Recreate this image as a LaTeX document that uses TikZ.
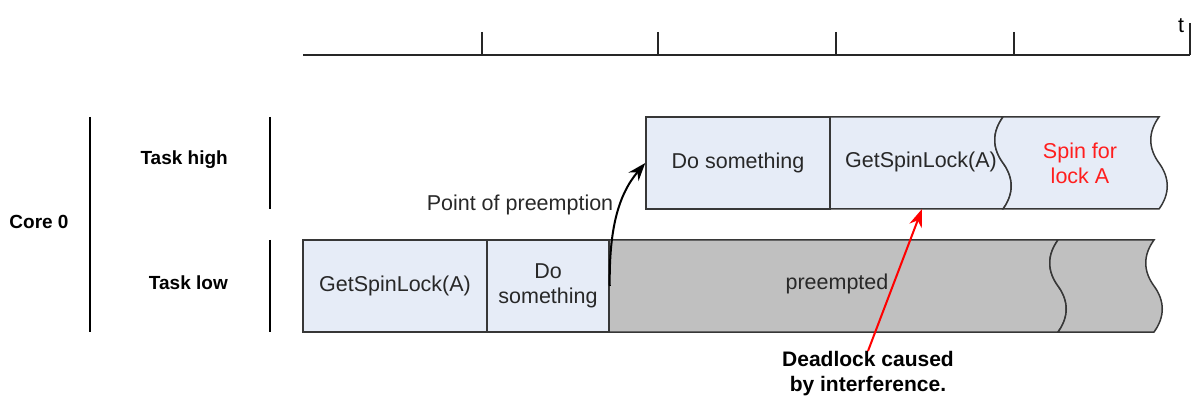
\documentclass[tikz,border=0pt]{standalone}
\usepackage{fontspec}
\setmainfont{Liberation Sans}
\usetikzlibrary{arrows.meta}
\definecolor{boxfill}{RGB}{230,236,247}
\definecolor{grayfill}{RGB}{192,192,192}
\definecolor{edge}{RGB}{55,55,55}
\definecolor{txt}{RGB}{40,40,40}
\definecolor{spinred}{RGB}{255,30,30}
\begin{document}
\begin{tikzpicture}[x=1pt,y=-1pt,
  boxe/.style={draw=edge, line width=1.5pt},
  taskbox/.style={boxe, fill=boxfill, rectangle, minimum height=92pt, inner sep=0pt,
    text=txt, font=\fontsize{21.5}{25}\selectfont, align=center},
  lbl/.style={font=\fontsize{21.5}{25}\selectfont, text=txt, align=center, inner sep=0pt},
  blbl/.style={font=\fontsize{19}{22}\selectfont\bfseries, text=black, inner sep=0pt},
  sepline/.style={line width=1.4pt, draw=black},
  axisline/.style={line width=1.8pt, draw=black!85},
  arr/.style={line width=2pt, -{Stealth[length=18pt,width=13pt]}},
]
\useasboundingbox (0,0) rectangle (1192,398);

% time axis
\draw[axisline] (303,55) -- (1190,55);
\foreach \tx in {482,658,836,1014}{\draw[axisline] (\tx,32) -- (\tx,55);}
\draw[axisline] (1190,23) -- (1190,55);
\node[lbl, text=black, anchor=south] (tlabel) at (1181,33) {t};

% row labels
\node[blbl] (core) at (39,222) {Core 0};
\node[blbl, anchor=east] (thigh) at (228,160) {Task high};
\node[blbl, anchor=east] (tlow) at (228,283) {Task low};
\draw[sepline] (90,117) -- (90,332);
\draw[sepline] (270,117) -- (270,209);
\draw[sepline] (270,240) -- (270,332);

% ---- Task high ----
\path[boxe, fill=boxfill] (830,117) -- (1003,117)
  .. controls (992,132) and (992,148) .. (1003,163)
  .. controls (1014,178) and (1014,194) .. (1003,209)
  -- (830,209) -- cycle;
\path[boxe, fill=boxfill] (1003,117) -- (1159,117)
  .. controls (1148,132) and (1148,148) .. (1159,163)
  .. controls (1170,178) and (1170,194) .. (1159,209)
  -- (1003,209)
  .. controls (1014,194) and (1014,178) .. (1003,163)
  .. controls (992,148) and (992,132) .. (1003,117);
\node[taskbox, minimum width=184pt] (highdo) at (738,163) {Do something};
\node[lbl] (hl) at (921,162) {GetSpinLock(A)};
\node[lbl, text=spinred] (spin) at (1080,163) {Spin for\\lock A};
\coordinate (hlb) at (922,209);

% ---- Task low ----
\path[boxe, fill=grayfill] (609,240) -- (1058,240)
  .. controls (1047,255) and (1047,271) .. (1058,286)
  .. controls (1069,301) and (1069,317) .. (1058,332)
  -- (609,332) -- cycle;
\path[boxe, fill=grayfill] (1058,240) -- (1154,240)
  .. controls (1143,255) and (1143,271) .. (1154,286)
  .. controls (1165,301) and (1165,317) .. (1154,332)
  -- (1058,332)
  .. controls (1069,317) and (1069,301) .. (1058,286)
  .. controls (1047,271) and (1047,255) .. (1058,240);
\node[taskbox, minimum width=184pt] (lowlock) at (395,286) {GetSpinLock(A)};
\node[taskbox, minimum width=122pt] (lowdo) at (548,286) {Do\\something};
\node[lbl] (pre) at (837,284) {preempted};

% preemption arrow
\node[lbl] (pop) at (520,205) {Point of preemption};
\draw[arr, black] (lowdo.east) .. controls (609,230) and (618,195) .. (highdo.west);

% deadlock
\node[lbl, text=black, font=\fontsize{21}{25}\selectfont\bfseries, anchor=north] (dl) at (868,351) {Deadlock caused\\by interference.};
\draw[arr, draw=red, fill=red] (dl.north) -- (hlb);
\end{tikzpicture}
\end{document}
